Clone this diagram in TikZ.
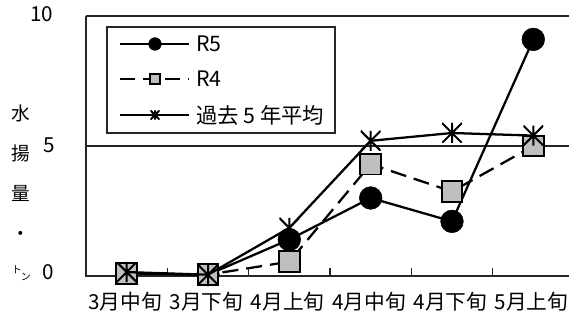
\documentclass[tikz,border=0pt]{standalone}
\usepackage{fontspec}
\setmainfont{Noto Sans CJK JP}
\begin{document}
\begin{tikzpicture}[x=0.75pt,y=-0.75pt,
  axisline/.style={line width=0.8pt,draw=black!85},
  dataline/.style={line width=1.7pt,black,line join=round},
  dashline/.style={dataline,dash pattern=on 12pt off 6pt},
  r5mark/.style={circle,fill=black,draw=black,inner sep=0pt,minimum size=17pt},
  r4mark/.style={rectangle,fill=black!25,draw=black,line width=1.4pt,inner sep=0pt,minimum size=15.5pt},
  avmark/.style={rectangle,inner sep=0pt,minimum size=15pt,
    path picture={\draw[line width=1.5pt]
      (path picture bounding box.north west) -- (path picture bounding box.south east)
      (path picture bounding box.north east) -- (path picture bounding box.south west)
      (path picture bounding box.north) -- (path picture bounding box.south);}},
  r5leg/.style={r5mark,minimum size=9.5pt},
  r4leg/.style={r4mark,minimum size=7.5pt,line width=1.2pt},
  avleg/.style={avmark,minimum size=7pt},
  tick/.style={font=\fontsize{15.5pt}{18pt}\selectfont},
  cat/.style={font=\fontsize{15.5pt}{18pt}\selectfont},
  legtext/.style={font=\fontsize{16pt}{19pt}\selectfont,anchor=west,inner sep=0pt},
  ytitle/.style={font=\fontsize{14pt}{16pt}\selectfont}]
\useasboundingbox (0,0) rectangle (569,323);
% axes and grid
\coordinate (tl) at (86,16);
\coordinate (tr) at (569,16);
\coordinate (ml) at (86,146);
\coordinate (mr) at (569,146);
\coordinate (bl) at (86,276);
\coordinate (br) at (569,276);
\draw[axisline] (tl) -- (tr);
\draw[axisline] (ml) -- (mr);
\draw[axisline] (tl) -- (bl) -- (br);
\foreach \x in {167.3,248.7,330,411.3,492.7} \draw[axisline] (\x,276) -- (\x,268);
% y tick labels
\node[tick] (y10) at (42,14) {10};
\node[tick] (y5) at (49,145) {5};
\node[tick] (y0) at (48,272) {0};
% y title
\node[ytitle] (t1) at (21,113) {水};
\node[ytitle] (t2) at (21,153) {揚};
\node[ytitle] (t3) at (21,193) {量};
\node[ytitle] (t4) at (21,236) {・};
\node[font=\fontsize{7.5pt}{8pt}\selectfont,inner sep=0pt] (t5a) at (17,270) {ト};
\node[font=\fontsize{7.5pt}{8pt}\selectfont,inner sep=0pt] (t5b) at (26,277) {ン};
% category labels
\node[cat] (c1) at (125,302) {3月中旬};
\node[cat] (c2) at (206.3,302) {3月下旬};
\node[cat] (c3) at (287.7,302) {4月上旬};
\node[cat] (c4) at (369,302) {4月中旬};
\node[cat] (c5) at (450.3,302) {4月下旬};
\node[cat] (c6) at (531.5,302) {5月上旬};
% data coordinates
\coordinate (a1) at (126.7,273.4);
\coordinate (a2) at (208,274.7);
\coordinate (a3) at (289.3,239.6);
\coordinate (a4) at (370.7,198);
\coordinate (a5) at (452,221.4);
\coordinate (a6) at (533.3,39.4);
\coordinate (b1) at (126.7,273.4);
\coordinate (b2) at (208,274.7);
\coordinate (b3) at (289.3,261.7);
\coordinate (b4) at (370.7,164.2);
\coordinate (b5) at (452,191.5);
\coordinate (b6) at (533.3,146);
\coordinate (v1) at (126.7,272.1);
\coordinate (v2) at (208,274.7);
\coordinate (v3) at (289.3,227.9);
\coordinate (v4) at (370.7,140.8);
\coordinate (v5) at (452,133);
\coordinate (v6) at (533.3,135.6);
% R5
\draw[dataline] (a1) -- (a2) -- (a3) -- (a4) -- (a5) -- (a6);
\foreach \p in {a1,a2,a3,a4,a5,a6} \node[r5mark] at (\p) {};
% R4
\draw[dashline] (b1) -- (b2) -- (b3) -- (b4) -- (b5) -- (b6);
\foreach \p in {b1,b2,b3,b4,b5,b6} \node[r4mark] at (\p) {};
% average
\draw[dataline] (v1) -- (v2) -- (v3) -- (v4) -- (v5) -- (v6);
\foreach \p in {v1,v2,v3,v4,v5,v6} \node[avmark] at (\p) {};
% legend
\draw[axisline,fill=white] (107,27) rectangle (335,133);
\coordinate (l1a) at (120,44); \coordinate (l1b) at (189,44);
\coordinate (l2a) at (120,79); \coordinate (l2b) at (189,79);
\coordinate (l3a) at (120,115); \coordinate (l3b) at (189,115);
\draw[dataline] (l1a) -- (l1b);
\draw[dashline,dash pattern=on 11pt off 6pt] (l2a) -- (l2b);
\draw[dataline] (l3a) -- (l3b);
\node[r5leg] (m1) at (155,44) {};
\node[r4leg] (m2) at (155,79) {};
\node[avleg] (m3) at (155,115) {};
\node[legtext] (lt1) at (196,44) {R5};
\node[legtext] (lt2) at (196,79) {R4};
\node[legtext] (lt3) at (196,115) {過去 5 年平均};
\end{tikzpicture}
\end{document}
